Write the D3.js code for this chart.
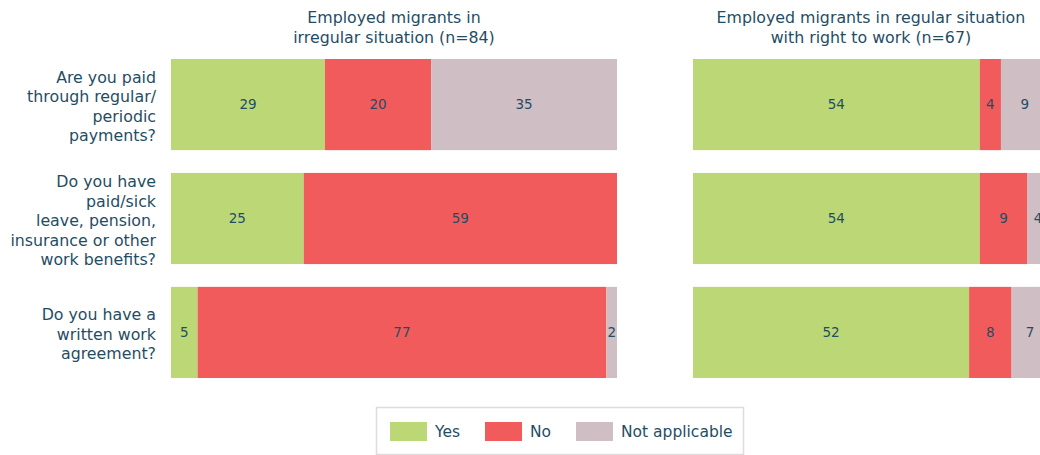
<!DOCTYPE html>
<html>
<head>
<meta charset="utf-8">
<script src="https://cdn.jsdelivr.net/npm/d3@7"></script>
<style>
  html, body { margin: 0; padding: 0; background: #fff; }
  svg { display: block; font-family: "DejaVu Sans", "Noto Sans", sans-serif; }
</style>
</head>
<body>
<svg id="chart" width="1040" height="455"></svg>
<script>
// Survey questions (one row per question)
const questions = [
  ["Are you paid", "through regular/", "periodic", "payments?"],
  ["Do you have", "paid/sick", "leave, pension,", "insurance or other", "work benefits?"],
  ["Do you have a", "written work", "agreement?"]
];
const answers = ["Yes", "No", "Not applicable"];
const answerColors = ["#bcd876", "#f15b5c", "#cfbec4"];

// Group titles and sizes
const groupTitles = [
  ["Employed migrants in", "irregular situation (n=84)"],
  ["Employed migrants in regular situation", "with right to work (n=67)"]
];
const groupN = [84, 67];

// Counts per question: [Yes, No, Not applicable]
const irregularCounts = [
  [29, 20, 35],
  [25, 59, 0],
  [5, 77, 2]
];
const regularCounts = [
  [54, 4, 9],
  [54, 9, 4],
  [52, 8, 7]
];
const groupCounts = [irregularCounts, regularCounts];

const textColor = "#1f4d64";
const svg = d3.select("#chart");
const W = 1040;

// Shared count scale: both panels use the same pixels-per-respondent
const x = d3.scaleLinear().domain([0, 84]).range([0, 446]);
const panelLeft = [171, 693];

const y = d3.scaleBand()
  .domain(d3.range(questions.length))
  .range([59, 378])
  .paddingInner(0.2)
  .paddingOuter(0);

svg.append("defs").append("clipPath").attr("id", "clip")
  .append("rect").attr("x", 0).attr("y", 0).attr("width", W).attr("height", 455);

const plot = svg.append("g").attr("clip-path", "url(#clip)");

// Question labels
const lineH = 19.5;
const qLabels = svg.append("g")
  .attr("font-size", 15.8)
  .attr("fill", textColor)
  .attr("text-anchor", "end");
questions.forEach((lines, i) => {
  const cy = y(i) + y.bandwidth() / 2;
  const t = qLabels.append("text")
    .attr("x", 156)
    .attr("y", cy - (lines.length - 1) * lineH / 2 + 5.5 + 2);
  t.selectAll("tspan").data(lines).join("tspan")
    .attr("x", 156)
    .attr("dy", (d, k) => k === 0 ? 0 : lineH)
    .text(d => d);
});

// Panels
groupCounts.forEach((counts, g) => {
  const panel = plot.append("g").attr("transform", `translate(${panelLeft[g]},0)`);

  // title
  const tt = panel.append("text")
    .attr("x", x(groupN[g]) / 2)
    .attr("y", 23)
    .attr("text-anchor", "middle")
    .attr("font-size", 15.8)
    .attr("fill", textColor);
  tt.selectAll("tspan").data(groupTitles[g]).join("tspan")
    .attr("x", x(groupN[g]) / 2)
    .attr("dy", (d, k) => k === 0 ? 0 : 20)
    .text(d => d);

  counts.forEach((row, i) => {
    const stacked = [];
    let acc = 0;
    row.forEach((v, k) => { stacked.push({ k, v, x0: acc, x1: acc + v }); acc += v; });
    const segs = stacked.filter(d => d.v > 0);
    const rowG = panel.append("g");
    rowG.selectAll("rect").data(segs).join("rect")
      .attr("x", d => x(d.x0))
      .attr("y", y(i))
      .attr("width", d => x(d.x1) - x(d.x0))
      .attr("height", y.bandwidth())
      .attr("fill", d => answerColors[d.k]);
    rowG.selectAll("text").data(segs).join("text")
      .attr("x", d => (x(d.x0) + x(d.x1)) / 2)
      .attr("y", y(i) + y.bandwidth() / 2)
      .attr("dy", "0.36em")
      .attr("text-anchor", "middle")
      .attr("font-size", 13.5)
      .attr("fill", textColor)
      .text(d => d.v);
  });
});

// Legend
const legend = svg.append("g");
legend.append("rect")
  .attr("x", 376.5).attr("y", 407.5)
  .attr("width", 367).attr("height", 47)
  .attr("fill", "#fff")
  .attr("stroke", "#e0dcdd")
  .attr("stroke-width", 1.5);
const legendX = [390, 485, 576];
answers.forEach((a, k) => {
  legend.append("rect")
    .attr("x", legendX[k]).attr("y", 422)
    .attr("width", 37).attr("height", 19)
    .attr("fill", answerColors[k]);
  legend.append("text")
    .attr("x", legendX[k] + 45).attr("y", 431.5)
    .attr("dy", "0.36em")
    .attr("font-size", 15.5)
    .attr("fill", textColor)
    .text(a);
});
</script>
</body>
</html>
